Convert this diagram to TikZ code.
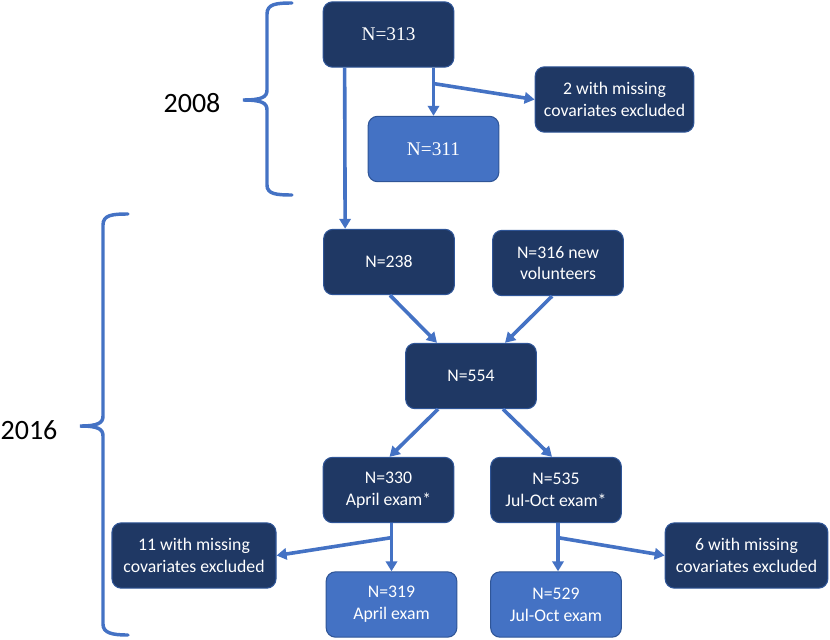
\documentclass[tikz,border=0pt]{standalone}
\usepackage{fontspec}
\setmainfont{Carlito}
\newfontfamily\serifnum{Liberation Serif}
\usetikzlibrary{arrows.meta,calc}
\definecolor{boxD}{RGB}{31,56,100}
\definecolor{boxL}{RGB}{68,114,196}
\definecolor{edgeB}{RGB}{47,85,151}
\definecolor{lineB}{RGB}{68,114,196}

\tikzset{
  flowbox/.style={rectangle,rounded corners=7pt,draw=edgeB,line width=0.8pt,
    fill=boxD,text=white,align=center,inner sep=2pt,
    font=\fontsize{13.3}{16.3}\selectfont,minimum width=98pt,minimum height=49pt},
  lightbox/.style={flowbox,fill=boxL},
  arr/.style={-{Triangle[length=7.5pt,width=8.5pt]},lineB,line width=2.7pt},
  brace/.style={lineB,line width=2.6pt,line cap=round},
  yearlbl/.style={font=\fontsize{21}{25}\selectfont}
}

\begin{document}
\begin{tikzpicture}[x=0.75pt,y=-0.75pt]
\useasboundingbox (0,0) rectangle (830,639);
% 2008
\node[flowbox,font=\serifnum\fontsize{14.5}{17}\selectfont] (n313) at (388.5,34.5) {N=313};
\node[lightbox,font=\serifnum\fontsize{14.5}{17}\selectfont] (n311) at (433.5,149) {N=311};
\node[flowbox,minimum width=119pt] (miss2) at (614.5,99.5) {2 with missing\\covariates excluded};
% 2016
\node[flowbox] (n238) at (389,262) {N=238};
\node[flowbox] (n316) at (558,263) {N=316 new\\volunteers};
\node[flowbox] (n554) at (471,376) {N=554};
\node[flowbox] (n330) at (388.5,490) {N=330\\April exam*};
\node[flowbox] (n535) at (556,490) {N=535\\Jul-Oct exam*};
\node[flowbox,minimum width=123pt] (miss11) at (194,555.5) {11 with missing\\covariates excluded};
\node[flowbox,minimum width=122pt] (miss6) at (746.5,555.5) {6 with missing\\covariates excluded};
\node[lightbox] (n319) at (391.5,604.5) {N=319\\April exam};
\node[lightbox] (n529) at (556,604.5) {N=529\\Jul-Oct exam};

% connectors
\draw[arr] ($(n313.south west)+(22,0)$) -- ($(n238.north west)+(22,0)$);
\draw[arr] (n311.north |- n313.south) -- (n311.north);
\coordinate (b1) at ($(n311.north |- n313.south)!0.33!(n311.north)$);
\draw[arr] (b1) -- (miss2.west);
\draw[arr] ($(n238.south)+(1,0)$) -- ($(n554.north)+(-34,0)$);
\draw[arr] ($(n316.south)+(-6,0)$) -- ($(n554.north)+(34,0)$);
\draw[arr] ($(n554.south)+(-33,0)$) -- ($(n330.north)+(1,0)$);
\draw[arr] ($(n554.south)+(32,0)$) -- ($(n535.north)+(-4,0)$);
\draw[arr] (n319.north |- n330.south) -- (n319.north);
\coordinate (b2) at ($(n319.north |- n330.south)!0.3!(n319.north)$);
\draw[arr] (b2) -- (miss11.east);
\draw[arr] ($(n535.south)+(2,0)$) -- ($(n529.north)+(2,0)$);
\coordinate (b3) at ($($(n535.south)+(2,0)$)!0.3!($(n529.north)+(2,0)$)$);
\draw[arr] (b3) -- (miss6.west);

% year braces
\draw[brace] (292,3) .. controls (276,3) and (267,4) .. (267,14) -- (267,90)
  .. controls (267,97) and (262,100) .. (243,100)
  .. controls (262,100) and (267,103) .. (267,110) -- (267,185)
  .. controls (267,194) and (276,195) .. (292,195);
\draw[brace] (128,214) .. controls (112,214) and (103,215) .. (103,225) -- (103,416)
  .. controls (103,423) and (98,426) .. (80,426)
  .. controls (98,426) and (103,429) .. (103,436) -- (103,624)
  .. controls (103,633) and (112,635) .. (128,635);
\node[yearlbl] (y2008) at (192,103) {2008};
\node[yearlbl] (y2016) at (29,430) {2016};
\end{tikzpicture}
\end{document}
